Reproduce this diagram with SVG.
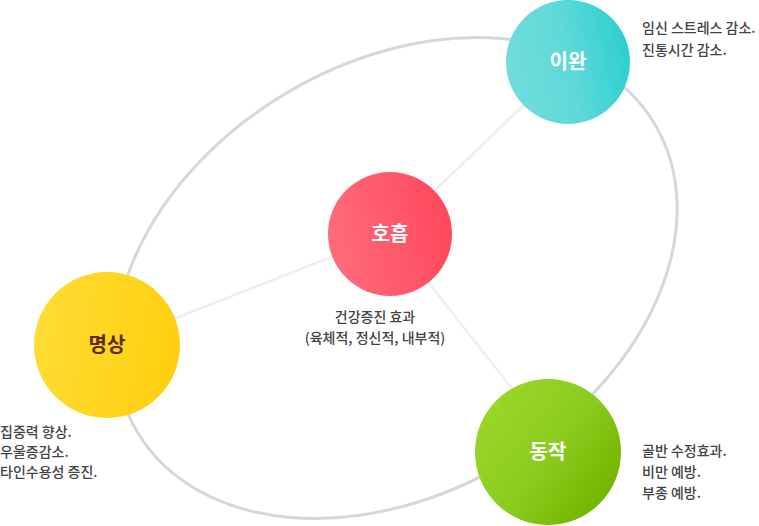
<svg xmlns="http://www.w3.org/2000/svg" width="759" height="526" viewBox="0 0 759 526">
<defs>
<linearGradient id="gTeal" x1="0" y1="0.6" x2="1" y2="0.4"><stop offset="0" stop-color="#72dcdc"/><stop offset="0.5" stop-color="#5fd9d9"/><stop offset="1" stop-color="#2ccfcf"/></linearGradient>
<linearGradient id="gRed" x1="0" y1="0.6" x2="1" y2="0.4"><stop offset="0" stop-color="#ff6d7c"/><stop offset="1" stop-color="#ff475d"/></linearGradient>
<linearGradient id="gYellow" x1="0" y1="0.4" x2="1" y2="0.6"><stop offset="0" stop-color="#ffdc34"/><stop offset="1" stop-color="#ffcf0e"/></linearGradient>
<linearGradient id="gGreen" x1="0.1" y1="0.2" x2="0.9" y2="0.8"><stop offset="0" stop-color="#9ad52a"/><stop offset="0.5" stop-color="#8ccc1f"/><stop offset="1" stop-color="#74b500"/></linearGradient>
<style>
.orbit{fill:none;stroke:#d5d7dc;stroke-width:3}
.spoke{stroke:#eceef4;stroke-width:2.5;fill:none}
.lbl{font-family:"Noto Sans CJK KR","Noto Sans",sans-serif;font-size:20px;font-weight:700;text-anchor:middle}
.desc{font-family:"Noto Sans CJK KR","Noto Sans",sans-serif;font-size:14px;font-weight:500;fill:#444}
</style>
</defs>
<rect width="759" height="526" fill="#ffffff"/>
<g id="connectors">
<ellipse class="orbit" cx="396" cy="278" rx="301" ry="215" transform="rotate(-30.7 396 278)"/>
<line class="spoke" x1="390" y1="234" x2="568" y2="62"/>
<line class="spoke" x1="390" y1="234" x2="107" y2="345"/>
<line class="spoke" x1="390" y1="234" x2="562" y2="452"/>
</g>
<g id="node-relax">
<circle cx="568" cy="62" r="62" fill="url(#gTeal)"/>
<text class="lbl" x="568" y="69" fill="#ffffff">이완</text>
<text class="desc" x="642" y="33">임신 스트레스 감소.</text>
<text class="desc" x="642" y="55">진통시간 감소.</text>
</g>
<g id="node-breath">
<circle cx="390" cy="234" r="62" fill="url(#gRed)"/>
<text class="lbl" x="390" y="241" fill="#ffffff">호흡</text>
<text class="desc" x="375" y="322" text-anchor="middle">건강증진 효과</text>
<text class="desc" x="375" y="343" text-anchor="middle">(육체적, 정신적, 내부적)</text>
</g>
<g id="node-meditation">
<circle cx="107" cy="345" r="73" fill="url(#gYellow)"/>
<text class="lbl" x="107" y="352" fill="#5b2a0c">명상</text>
<text class="desc" x="0" y="437">집중력 향상.</text>
<text class="desc" x="0" y="457">우울증감소.</text>
<text class="desc" x="0" y="477">타인수용성 증진.</text>
</g>
<g id="node-movement">
<circle cx="548" cy="452" r="73" fill="url(#gGreen)"/>
<text class="lbl" x="548" y="459" fill="#ffffff">동작</text>
<text class="desc" x="642" y="456">골반 수정효과.</text>
<text class="desc" x="642" y="477">비만 예방.</text>
<text class="desc" x="642" y="498">부종 예방.</text>
</g>
</svg>
